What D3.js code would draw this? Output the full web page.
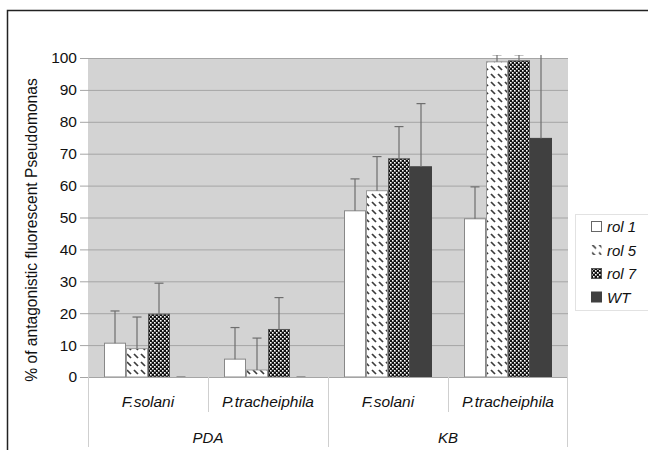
<!DOCTYPE html>
<html>
<head>
<meta charset="utf-8">
<script src="https://cdn.jsdelivr.net/npm/d3@7"></script>
<style>
    body { margin: 0; background: #fff; }
    svg { display: block; font-family: "Liberation Sans", Arial, sans-serif; }
</style>
</head>
<body>
<svg id="svg-chart"></svg>
<script>
// 数据
let mediaList = ['PDA', 'KB'];
let pathogenList = ['F.solani', 'P.tracheiphila'];
let seriesList = ['rol 1', 'rol 5', 'rol 7', 'WT'];
// 每个系列 4 个值: PDA F.solani, PDA P.tracheiphila, KB F.solani, KB P.tracheiphila
let rol1Values = [10.6, 5.6, 52.1, 49.6];
let rol5Values = [8.9, 2.2, 58.4, 98.8];
let rol7Values = [19.7, 14.9, 68.4, 99.1];
let wtValues = [0, 0, 65.9, 74.8];
// 误差
let rol1Errors = [10.1, 9.9, 10.0, 10.0];
let rol5Errors = [9.9, 10.0, 10.7, 2.2];
let rol7Errors = [9.7, 10.0, 10.1, 1.9];
let wtErrors = [0, 0, 19.8, 30.0];
let yTicks = [0, 10, 20, 30, 40, 50, 60, 70, 80, 90, 100];

function draw_chart() {
    let width = 648, height = 450;
    let margin = {left: 88, top: 58, right: 80, bottom: 73};
    let svg = d3.select('#svg-chart')
        .attr('width', width)
        .attr('height', height);

    // 花纹
    let defs = svg.append('defs');
    let hatch = defs.append('pattern')
        .attr('id', 'pat-hatch')
        .attr('patternUnits', 'userSpaceOnUse')
        .attr('width', 7).attr('height', 8);
    hatch.append('rect').attr('width', 7).attr('height', 8).attr('fill', '#fff');
    hatch.append('line')
        .attr('x1', 1).attr('y1', 2).attr('x2', 5).attr('y2', 6)
        .attr('stroke', '#3c3c3c').attr('stroke-width', 1.7);
    let check = defs.append('pattern')
        .attr('id', 'pat-check')
        .attr('patternUnits', 'userSpaceOnUse')
        .attr('width', 4).attr('height', 4);
    check.append('rect').attr('width', 4).attr('height', 4).attr('fill', '#111');
    check.append('rect').attr('x', 0).attr('y', 0).attr('width', 1.6).attr('height', 1.6).attr('fill', '#fff');
    check.append('rect').attr('x', 2).attr('y', 2).attr('width', 1.6).attr('height', 1.6).attr('fill', '#fff');

    let fills = ['#ffffff', 'url(#pat-hatch)', 'url(#pat-check)', '#404040'];
    let strokes = ['#888', '#999', '#555', '#404040'];

    // 外框
    svg.append('rect')
        .attr('x', 7.5).attr('y', 10.5)
        .attr('width', width + 10).attr('height', height + 10)
        .attr('fill', 'none')
        .attr('stroke', '#222')
        .attr('stroke-width', 1.5);

    // 比例尺
    let categories = [];
    mediaList.forEach(function (m) {
        pathogenList.forEach(function (p) { categories.push(m + '|' + p); });
    });
    let x0 = d3.scaleBand()
        .domain(categories)
        .range([margin.left, width - margin.right]);
    let gap = 16;
    let x1 = d3.scaleBand()
        .domain(seriesList)
        .range([gap, x0.bandwidth() - gap]);
    let y = d3.scaleLinear()
        .domain([0, 100])
        .range([height - margin.bottom - 0, margin.top]);

    let plotLeft = x0.range()[0], plotRight = x0.range()[1];
    let plotTop = y(100), plotBottom = y(0);

    // 背景
    svg.append('rect')
        .attr('x', plotLeft).attr('y', plotTop)
        .attr('width', plotRight - plotLeft)
        .attr('height', plotBottom - plotTop)
        .attr('fill', '#d3d3d3');

    // 网格线 + 刻度
    let yAxis = d3.axisLeft(y)
        .tickValues(yTicks)
        .tickSize(-(plotRight - plotLeft))
        .tickPadding(11);
    let gY = svg.append('g')
        .attr('transform', 'translate(' + plotLeft + ',0)')
        .call(yAxis);
    gY.select('.domain').remove();
    gY.selectAll('.tick line')
        .attr('x1', -8)
        .attr('stroke', '#a5a5a5');
    gY.selectAll('.tick text')
        .attr('font-size', 15.5)
        .attr('fill', '#111')
        .style('font-family', '"Liberation Sans", Arial, sans-serif');

    // y 轴标题
    svg.append('text')
        .attr('transform', 'translate(36.5,230) rotate(-90)')
        .attr('text-anchor', 'middle')
        .attr('font-size', 15.6)
        .attr('fill', '#111')
        .text('% of antagonistic fluorescent Pseudomonas');

    // 柱子
    let seriesValues = [rol1Values, rol5Values, rol7Values, wtValues];
    let seriesErrors = [rol1Errors, rol5Errors, rol7Errors, wtErrors];
    let barData = [];
    categories.forEach(function (c, ci) {
        seriesList.forEach(function (s, si) {
            barData.push({cat: c, series: s, si: si, value: seriesValues[si][ci], err: seriesErrors[si][ci]});
        });
    });

    defs.append('clipPath')
        .attr('id', 'clip-plot')
        .append('rect')
        .attr('x', plotLeft).attr('y', plotTop - 3)
        .attr('width', plotRight - plotLeft)
        .attr('height', plotBottom - plotTop + 3);

    let gBars = svg.append('g').attr('clip-path', 'url(#clip-plot)');
    gBars.selectAll('rect.bar')
        .data(barData.filter(function (d) { return d.value > 0; }))
        .enter()
        .append('rect')
        .attr('class', 'bar')
        .attr('x', function (d) { return x0(d.cat) + x1(d.series) + 0.5; })
        .attr('y', function (d) { return y(d.value); })
        .attr('width', x1.bandwidth() - 1)
        .attr('height', function (d) { return y(0) - y(d.value); })
        .attr('fill', function (d) { return fills[d.si]; })
        .attr('stroke', function (d) { return strokes[d.si]; })
        .attr('stroke-width', 1);

    // 误差线
    let errColor = '#6e6e6e';
    let gErr = gBars.selectAll('g.err')
        .data(barData)
        .enter()
        .append('g')
        .attr('class', 'err');
    gErr.append('line')
        .attr('x1', function (d) { return x0(d.cat) + x1(d.series) + x1.bandwidth() / 2; })
        .attr('x2', function (d) { return x0(d.cat) + x1(d.series) + x1.bandwidth() / 2; })
        .attr('y1', function (d) { return y(d.value); })
        .attr('y2', function (d) { return y(d.value + d.err); })
        .attr('stroke', errColor)
        .attr('stroke-width', 1.2);
    gErr.append('line')
        .attr('x1', function (d) { return x0(d.cat) + x1(d.series) + x1.bandwidth() / 2 - 4.5; })
        .attr('x2', function (d) { return x0(d.cat) + x1(d.series) + x1.bandwidth() / 2 + 4.5; })
        .attr('y1', function (d) { return y(d.value + d.err); })
        .attr('y2', function (d) { return y(d.value + d.err); })
        .attr('stroke', errColor)
        .attr('stroke-width', 1.2);

    // x 轴 (两级分类)
    let sepColor = '#cfcfcf';
    let gX = svg.append('g');
    categories.forEach(function (c, ci) {
        let xStart = x0(c);
        let firstOfGroup = ci % pathogenList.length === 0;
        gX.append('line')
            .attr('x1', xStart + 0.5).attr('x2', xStart + 0.5)
            .attr('y1', plotBottom)
            .attr('y2', firstOfGroup ? plotBottom + 70 : plotBottom + 35)
            .attr('stroke', sepColor);
        gX.append('text')
            .attr('x', xStart + x0.bandwidth() / 2)
            .attr('y', plotBottom + 30)
            .attr('text-anchor', 'middle')
            .attr('font-size', 15.5)
            .attr('font-style', 'italic')
            .attr('fill', '#111')
            .text(c.split('|')[1]);
    });
    gX.append('line')
        .attr('x1', plotRight - 0.5).attr('x2', plotRight - 0.5)
        .attr('y1', plotBottom).attr('y2', plotBottom + 70)
        .attr('stroke', sepColor);
    mediaList.forEach(function (m) {
        let xa = x0(m + '|' + pathogenList[0]);
        let xb = x0(m + '|' + pathogenList[pathogenList.length - 1]) + x0.bandwidth();
        gX.append('text')
            .attr('x', (xa + xb) / 2)
            .attr('y', plotBottom + 66)
            .attr('text-anchor', 'middle')
            .attr('font-size', 15)
            .attr('font-style', 'italic')
            .attr('fill', '#111')
            .text(m);
    });

    // 图例
    let legendX = 575, legendY = 214;
    let gLegend = svg.append('g')
        .attr('transform', 'translate(' + legendX + ',' + legendY + ')');
    gLegend.append('rect')
        .attr('x', 0.5).attr('y', 0.5)
        .attr('width', 80).attr('height', 96)
        .attr('fill', '#fff')
        .attr('stroke', '#e2e2e2');
    seriesList.forEach(function (s, i) {
        let gItem = gLegend.append('g')
            .attr('transform', 'translate(16,' + (13 + i * 23.5) + ')');
        gItem.append('rect')
            .attr('x', 0.5).attr('y', -5.5)
            .attr('width', 10).attr('height', 10)
            .attr('fill', fills[i])
            .attr('stroke', i === 0 ? '#666' : (i === 1 ? 'none' : strokes[i]));
        gItem.append('text')
            .attr('x', 16)
            .attr('y', 5)
            .attr('font-size', 15)
            .attr('font-style', 'italic')
            .attr('fill', '#111')
            .text(s);
    });
}

draw_chart();
</script>
</body>
</html>
